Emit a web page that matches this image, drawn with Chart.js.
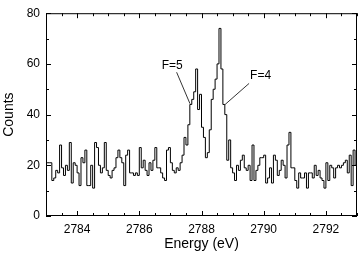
<!DOCTYPE html>
<html lang="en">
<head>
<meta charset="UTF-8" />
<title>Counts vs Energy</title>
<style>
  body { margin: 0; background: #fff; }
  canvas { display: block; }
</style>
</head>
<body>
<canvas id="spectrum" width="360" height="257"></canvas>
<script src="https://cdn.jsdelivr.net/npm/chart.js@4.4.0/dist/chart.umd.min.js"></script>
<script>
// histogram bins start at 2783 eV, one count per bin
const startEnergy = 2783;
const binWidth = 0.0625;
const counts = [
  21, 21, 21, 14, 15, 18, 17, 28, 19, 16, 20, 18, 29, 13, 21, 20, 17, 12, 23, 21,
  26, 12, 12, 20, 11, 29, 27, 20, 17, 19, 29, 18, 16, 15, 18, 19, 23, 26, 23, 21,
  12, 24, 26, 17, 17, 16, 17, 16, 27, 19, 22, 18, 16, 21, 18, 22, 27, 19, 19, 17,
  15, 14, 26, 27, 21, 18, 17, 19, 18, 21, 24, 31, 28, 36, 44, 46, 49, 58, 42, 48,
  35, 31, 23, 25, 34, 46, 50, 54, 60, 74, 58, 44, 40, 22, 30, 19, 17, 14, 20, 18,
  22, 24, 19, 18, 20, 14, 28, 14, 18, 20, 23, 23, 24, 13, 15, 19, 13, 24, 22, 16,
  18, 22, 20, 15, 28, 33, 19, 19, 14, 11, 17, 15, 15, 17, 11, 17, 17, 15, 20, 16,
  18, 15, 14, 11, 21, 14, 20, 19, 15, 19, 20, 19, 20, 21, 22, 17, 24, 12, 26, 20
];
const xTicks = [2784, 2786, 2788, 2790, 2792];
const yTicks = [0, 20, 40, 60, 80];
const xMinorStep = 0.5;
const yMinorStep = 10;

// labels with leader lines: text position, line start, line end (data units)
const peakNotes = [
  { text: "F=5", at: [2787.06, 59.2], from: [2787.2, 56.7], to: [2787.63, 44.3] },
  { text: "F=4", at: [2789.9, 55.4], from: [2789.53, 52.3], to: [2788.76, 44] }
];

const FONT = "'Liberation Sans', Arial, sans-serif";

let points = counts.map((c, i) => ({ x: startEnergy + i * binWidth, y: c }));
points.push({ x: startEnergy + counts.length * binWidth, y: counts[counts.length - 1] });

const frameAndTicks = {
  id: "frameAndTicks",
  afterDatasetsDraw(chart) {
    const { ctx, chartArea: a, scales } = chart;
    const x = scales.x, y = scales.y;
    ctx.save();
    ctx.strokeStyle = "#000";
    ctx.lineWidth = 1;
    ctx.strokeRect(a.left + 0.5, a.top + 0.5, a.right - a.left - 1, a.bottom - a.top - 1);

    ctx.beginPath();
    for (let v = x.min; v <= x.max + 1e-9; v += xMinorStep) {
      const px = Math.round(x.getPixelForValue(v)) + 0.5;
      const len = xTicks.includes(v) ? 5 : 3;
      ctx.moveTo(px, a.bottom); ctx.lineTo(px, a.bottom - len);
      ctx.moveTo(px, a.top); ctx.lineTo(px, a.top + len);
    }
    for (let v = y.min; v <= y.max + 1e-9; v += yMinorStep) {
      const py = Math.round(y.getPixelForValue(v)) + 0.5;
      const len = yTicks.includes(v) ? 5 : 3;
      ctx.moveTo(a.left, py); ctx.lineTo(a.left + len, py);
      ctx.moveTo(a.right, py); ctx.lineTo(a.right - len, py);
    }
    ctx.stroke();

    // peak labels
    ctx.font = "12px " + FONT;
    ctx.fillStyle = "#000";
    ctx.textAlign = "center";
    ctx.textBaseline = "middle";
    ctx.lineWidth = 0.8;
    peakNotes.forEach(n => {
      ctx.fillText(n.text, x.getPixelForValue(n.at[0]), y.getPixelForValue(n.at[1]));
      ctx.beginPath();
      ctx.moveTo(x.getPixelForValue(n.from[0]), y.getPixelForValue(n.from[1]));
      ctx.lineTo(x.getPixelForValue(n.to[0]), y.getPixelForValue(n.to[1]));
      ctx.stroke();
    });
    ctx.restore();
  }
};

new Chart(document.getElementById("spectrum"), {
  type: "line",
  data: {
    datasets: [{
      data: points,
      stepped: true,
      borderColor: "#000",
      borderWidth: 1,
      pointRadius: 0,
      fill: false
    }]
  },
  options: {
    responsive: false,
    animation: false,
    devicePixelRatio: 1,
    layout: { padding: { top: 5, right: 3, left: 0, bottom: 0 } },
    plugins: { legend: { display: false }, tooltip: { enabled: false } },
    scales: {
      x: {
        type: "linear",
        min: 2783,
        max: 2793,
        afterFit: s => { s.height = 41; },
        afterBuildTicks: s => { s.ticks = xTicks.map(v => ({ value: v })); },
        grid: { display: false, drawTicks: false },
        border: { display: false },
        ticks: { color: "#000", font: { size: 12, family: FONT }, padding: 6, maxRotation: 0, callback: v => String(v) },
        title: { display: true, text: "Energy (eV)", color: "#000", font: { size: 14, family: FONT }, padding: { top: 0, bottom: 4 } }
      },
      y: {
        min: 0,
        max: 80,
        afterFit: s => { s.width = 46; },
        afterBuildTicks: s => { s.ticks = yTicks.map(v => ({ value: v })); },
        grid: { display: false, drawTicks: false },
        border: { display: false },
        ticks: { color: "#000", font: { size: 12, family: FONT }, padding: 6 },
        title: { display: true, text: "Counts", color: "#000", font: { size: 14, family: FONT }, padding: { top: 1, bottom: 0 } }
      }
    }
  },
  plugins: [frameAndTicks]
});
</script>
</body>
</html>
